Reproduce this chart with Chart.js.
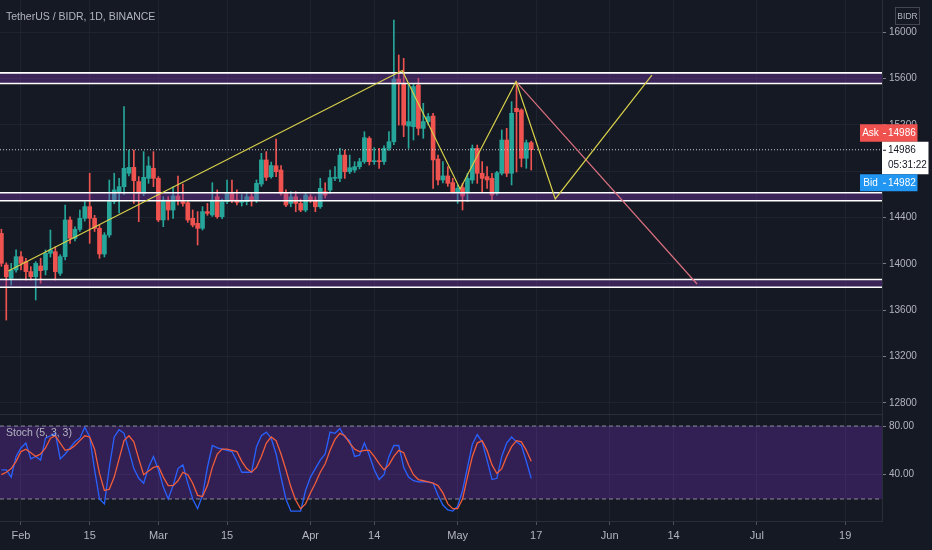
<!DOCTYPE html>
<html>
<head>
<meta charset="utf-8">
<title>TetherUS / BIDR, 1D, BINANCE</title>
<script src="https://cdn.jsdelivr.net/npm/chart.js@4.4.1/dist/chart.umd.min.js"></script>
<style>
  html, body { margin: 0; padding: 0; background: #151924; }
  #chart { display: block; }
</style>
</head>
<body>
<canvas id="chart" width="932" height="550" style="width:932px;height:550px"></canvas>
<script>
// day offsets from 1 Feb; first candle is 28 Jan
const firstDay = -4;

const opens = [
  14264, 13991, 13876, 13948, 14063, 14020, 13934, 13890, 13983, 13948,
  14092, 14106, 13919, 14063, 14380, 14221, 14299, 14394, 14495, 14394,
  14308, 14086, 14250, 14538, 14624, 14667, 14783, 14834, 14711, 14610,
  14739, 14826, 14739, 14380, 14552, 14466, 14587, 14538, 14529, 14394,
  14351, 14308, 14452, 14423, 14581, 14408, 14538, 14610, 14552, 14532,
  14538, 14581, 14552, 14690, 14898, 14753, 14848, 14811, 14609, 14523,
  14580, 14523, 14465, 14580, 14552, 14494, 14624, 14638, 14740, 14739,
  14940, 14796, 14811, 14840, 14883, 15084, 14883, 14889, 14883, 14998,
  15055, 15596, 15559, 15191, 15185, 15545, 15171, 15229, 15277, 14906,
  14725, 14760, 14702, 14624, 14659, 14624, 14725, 14998, 14783, 14754,
  14739, 14610, 14783, 15070, 14783, 15344, 15329, 14912, 15047
];
const highs = [
  14300, 14010, 14005, 14121, 14106, 14049, 13977, 14020, 14049, 14121,
  14293, 14149, 14080, 14509, 14408, 14320, 14466, 14538, 14783, 14420,
  14336, 14270, 14725, 14783, 14739, 15358, 14984, 14984, 14754, 14970,
  14926, 14970, 14754, 14581, 14581, 14667, 14759, 14690, 14550, 14466,
  14452, 14495, 14523, 14702, 14639, 14560, 14725, 14725, 14639, 14600,
  14620, 14610, 14725, 14955, 14970, 14880, 15078, 14850, 14640, 14624,
  14624, 14560, 14610, 14600, 14580, 14739, 14700, 14811, 14840, 14998,
  14983, 14940, 14883, 14912, 15142, 15099, 15004, 14998, 15020, 15142,
  16106, 15804, 15775, 15560, 15560, 15603, 15387, 15300, 15300, 14941,
  14883, 14840, 14740, 14682, 14696, 14783, 15027, 15027, 14883, 14840,
  14783, 14800, 15157, 15171, 15401, 15571, 15340, 15070, 15060
];
const lows = [
  13980, 13516, 13818, 13930, 13948, 13861, 13861, 13689, 13833, 13905,
  14060, 13861, 13900, 14034, 14178, 14200, 14280, 14370, 14178, 14280,
  14049, 14060, 14230, 14520, 14440, 14600, 14760, 14523, 14365, 14590,
  14696, 14667, 14365, 14322, 14380, 14394, 14509, 14500, 14360, 14320,
  14164, 14293, 14420, 14410, 14394, 14390, 14520, 14530, 14510, 14500,
  14510, 14500, 14530, 14670, 14720, 14740, 14753, 14595, 14494, 14494,
  14451, 14451, 14450, 14530, 14451, 14480, 14570, 14610, 14720, 14710,
  14739, 14780, 14790, 14820, 14868, 14854, 14860, 14825, 14860, 14980,
  15030, 15199, 15099, 14998, 15070, 15113, 15085, 15200, 14653, 14682,
  14700, 14670, 14610, 14523, 14466, 14538, 14696, 14696, 14624, 14653,
  14552, 14595, 14768, 14754, 14682, 14794, 14838, 14826, 14811
];
const closes = [
  14005, 13890, 13948, 14063, 14005, 13934, 13890, 14005, 13942, 14092,
  14121, 13934, 14063, 14380, 14221, 14299, 14394, 14495, 14394, 14308,
  14086, 14250, 14538, 14639, 14667, 14826, 14834, 14719, 14610, 14748,
  14846, 14739, 14380, 14552, 14466, 14587, 14552, 14523, 14380, 14336,
  14308, 14452, 14437, 14552, 14408, 14538, 14616, 14552, 14532, 14538,
  14581, 14552, 14696, 14898, 14748, 14850, 14796, 14609, 14509, 14580,
  14523, 14465, 14595, 14552, 14494, 14653, 14595, 14745, 14745, 14940,
  14796, 14831, 14840, 14883, 15090, 14883, 14889, 14883, 14998, 15055,
  15596, 15559, 15199, 15229, 15531, 15171, 15229, 15272, 14898, 14725,
  14760, 14696, 14624, 14653, 14587, 14739, 14998, 14783, 14739, 14725,
  14595, 14788, 15070, 14783, 15301, 15315, 14912, 15047, 14986
];

// Stoch (5, 3, 3)
const stochK = [
  44, 44, 38, 55, 62, 66, 53, 55, 52, 70,
  72, 74, 53, 57, 62, 67, 70, 79, 71, 44,
  20, 16, 46, 71, 77, 74, 60, 45, 37, 33,
  46, 55, 44, 30, 20, 31, 45, 48, 33, 20,
  12, 23, 46, 64, 62, 61, 60, 59, 51, 42,
  42, 42, 63, 72, 75, 70, 57, 38, 20, 10,
  10, 10, 27, 38, 45, 52, 57, 75, 74, 78,
  71, 68, 55, 56, 66, 56, 44, 36, 40, 55,
  64, 64, 46, 38, 35, 34, 34, 34, 33, 23,
  15, 11, 10, 14, 27, 46, 65, 73, 67, 52,
  36, 37, 55, 66, 71, 67, 64, 51, 37
];
const stochD = [
  40, 42, 45, 51, 59, 61, 58, 55, 57, 62,
  70, 72, 66, 60, 61, 64, 68, 72, 71, 61,
  41, 27, 28, 38, 53, 68, 72, 67, 53, 40,
  43, 46, 47, 38, 31, 31, 35, 42, 40, 33,
  23, 22, 31, 46, 57, 61, 61, 60, 59, 51,
  45, 42, 46, 55, 66, 71, 68, 57, 44, 30,
  19, 12, 16, 25, 33, 42, 49, 60, 69, 74,
  72, 66, 61, 59, 60, 60, 55, 49, 44, 48,
  55, 60, 58, 48, 40, 36, 35, 34, 33, 31,
  25, 16, 12, 12, 20, 38, 55, 66, 68, 60,
  48, 41, 45, 55, 63, 68, 67, 60, 51
];

const timeTickDays = [0, 14, 28, 42, 59, 72, 89, 105, 120, 133, 150, 168];
const timeTickLabels = ['Feb', '15', 'Mar', '15', 'Apr', '14', 'May', '17', 'Jun', '14', 'Jul', '19'];
const priceTicks = [12800, 13200, 13600, 14000, 14400, 14800, 15200, 15600, 16000];
const stochTicks = [40, 80];
const stochBand = [80, 20];

// drawings
const zoneTops = [15650, 14615, 13866];
const zoneBottoms = [15558, 14546, 13799];
const patternDays = [-2.6, 77.7, 89.5, 100.9, 108.9, 128.6];
const patternPrices = [13939, 15670, 14647, 15575, 14561, 15631];
const targetDays = [100.9, 137.8];
const targetPrices = [15575, 13827];

const lastPrice = 14986;
const askPrice = 14986;
const bidPrice = 14982;
const countdown = '05:31:22';

const xMin = -4.28, xMax = 175.5;
const FONT = "'Liberation Sans Narrow', 'Liberation Sans', Arial, sans-serif";
const TEXT = '#b2b5be';
const GRID = '#1f2330';
const UP = '#26a69a', DOWN = '#ef5350';

const days = opens.map((_, i) => firstDay + i);
const candleColors = closes.map((c, i) => c >= opens[i] ? UP : DOWN);
const flat = (y) => [{x: xMin, y}, {x: xMax, y}];

const datasets = [];

datasets.push({
  type: 'line', data: patternDays.map((d, i) => ({x: d, y: patternPrices[i]})),
  borderColor: '#d8d04a', borderWidth: 1.2, pointRadius: 0, yAxisID: 'y', order: 1
});
datasets.push({
  type: 'line', data: targetDays.map((d, i) => ({x: d, y: targetPrices[i]})),
  borderColor: '#d9707e', borderWidth: 1.2, pointRadius: 0, yAxisID: 'y', order: 1
});

zoneTops.forEach((top, i) => {
  datasets.push({
    type: 'line', data: flat(top), borderColor: '#ffffff', borderWidth: 1.6,
    pointRadius: 0, yAxisID: 'y', order: 2, fill: false
  });
  datasets.push({
    type: 'line', data: flat(zoneBottoms[i]), borderColor: '#ffffff', borderWidth: 1.6,
    pointRadius: 0, yAxisID: 'y', order: 2, fill: '-1', backgroundColor: 'rgba(120,55,170,0.38)'
  });
});

datasets.push({
  type: 'line', data: flat(lastPrice), borderColor: 'rgba(225,226,230,0.9)', borderWidth: 1,
  borderDash: [1, 2], pointRadius: 0, yAxisID: 'y', order: 3
});

// candles: bodies then wicks
datasets.push({
  type: 'bar', data: days.map((d, i) => ({x: d, y: [opens[i], closes[i]]})),
  backgroundColor: candleColors, barThickness: 4, minBarLength: 1, grouped: false,
  yAxisID: 'y', order: 5
});
datasets.push({
  type: 'bar', data: days.map((d, i) => ({x: d, y: [lows[i], highs[i]]})),
  backgroundColor: candleColors, barThickness: 1, grouped: false,
  yAxisID: 'y', order: 6
});

// stoch pane
datasets.push({
  type: 'line', data: days.map((d, i) => ({x: d, y: stochD[i]})),
  borderColor: '#f25d3a', borderWidth: 1.3, pointRadius: 0, tension: 0, yAxisID: 'y2', order: 1
});
datasets.push({
  type: 'line', data: days.map((d, i) => ({x: d, y: stochK[i]})),
  borderColor: '#2962ff', borderWidth: 1.3, pointRadius: 0, tension: 0, yAxisID: 'y2', order: 2
});
datasets.push({
  type: 'line', data: flat(stochBand[0]), borderColor: '#8a8d96', borderWidth: 1,
  borderDash: [4, 3], pointRadius: 0, yAxisID: 'y2', order: 8, fill: false
});
datasets.push({
  type: 'line', data: flat(stochBand[1]), borderColor: '#8a8d96', borderWidth: 1,
  borderDash: [4, 3], pointRadius: 0, yAxisID: 'y2', order: 8, fill: '-1',
  backgroundColor: 'rgba(120,50,200,0.3)'
});

const labelByDay = {};
timeTickDays.forEach((d, i) => { labelByDay[d] = timeTickLabels[i]; });

function box(ctx, x, y, w, h, fill, label, price) {
  ctx.fillStyle = fill;
  ctx.fillRect(x, y, w, h);
  ctx.fillStyle = '#ffffff';
  ctx.textBaseline = 'middle';
  ctx.textAlign = 'center';
  ctx.fillText(label, x + 10.5, y + h / 2 + 0.5);
  ctx.fillRect(883, y + h / 2, 3, 1);
  ctx.textAlign = 'left';
  ctx.fillText(price, 888, y + h / 2 + 0.5);
}

const overlay = {
  id: 'overlay',
  afterDraw(chart) {
    const {ctx, scales} = chart;
    const area = chart.chartArea;
    ctx.save();
    // pane separator
    ctx.fillStyle = '#2a2e39';
    ctx.fillRect(0, Math.round(scales.y.bottom), area.right, 1);

    ctx.font = '10.5px ' + FONT;
    ctx.fillStyle = TEXT;
    ctx.textBaseline = 'middle';
    ctx.textAlign = 'left';
    ctx.fillText('TetherUS / BIDR, 1D, BINANCE', 6, 17);
    ctx.fillText('Stoch (5, 3, 3)', 6, scales.y2.top + 19);

    // currency badge
    ctx.strokeStyle = '#434651';
    ctx.lineWidth = 1;
    ctx.strokeRect(895.5, 7.5, 24, 17);
    ctx.font = '8.5px ' + FONT;
    ctx.textAlign = 'center';
    ctx.fillText('BIDR', 907.5, 16.5);

    // price tags
    const py = scales.y.getPixelForValue(lastPrice);
    ctx.font = '10px ' + FONT;
    box(ctx, 860, py - 25.5, 57.5, 17.5, '#f0524f', 'Ask', String(askPrice));
    ctx.fillStyle = '#ffffff';
    ctx.fillRect(882, py - 8, 46.5, 32.5);
    ctx.fillStyle = '#131722';
    ctx.fillRect(883, py, 3, 1);
    ctx.textAlign = 'left';
    ctx.fillText(String(lastPrice), 888, py + 0.5);
    ctx.fillText(countdown, 888, py + 15);
    box(ctx, 860, py + 24.5, 57.5, 17, '#2196f3', 'Bid', String(bidPrice));
    ctx.restore();
  }
};

const noPad = s => { s.paddingTop = 0; s.paddingBottom = 0; s.paddingLeft = 0; s.paddingRight = 0; };

new Chart(document.getElementById('chart'), {
  type: 'bar',
  data: { datasets },
  plugins: [overlay],
  options: {
    responsive: false,
    animation: false,
    events: [],
    layout: { padding: 0, autoPadding: false },
    plugins: { legend: { display: false }, tooltip: { enabled: false } },
    scales: {
      x: {
        type: 'linear', min: xMin, max: xMax, offset: false,
        afterBuildTicks: s => { s.ticks = timeTickDays.map(v => ({value: v})); },
        afterFit: s => { s.height = 29; noPad(s); },
        ticks: {
          autoSkip: false, maxRotation: 0, padding: 4, color: TEXT,
          font: { family: FONT, size: 11 },
          callback: v => labelByDay[v]
        },
        grid: { color: GRID, offset: false, tickLength: 4, tickColor: '#50535e' },
        border: { color: '#2a2e39' }
      },
      y: {
        type: 'linear', position: 'right', stack: 'panes', stackWeight: 414,
        min: 12704.8, max: 16278.8,
        afterBuildTicks: s => { s.ticks = priceTicks.map(v => ({value: v})); },
        afterFit: s => { s.width = 50; noPad(s); },
        ticks: {
          padding: 3, color: TEXT, font: { family: FONT, size: 10 },
          callback: v => String(v)
        },
        grid: { color: GRID, tickLength: 4, tickColor: '#787b86' },
        border: { color: '#2a2e39' }
      },
      y2: {
        type: 'linear', position: 'right', stack: 'panes', stackWeight: 107,
        min: 1.9, max: 89.9,
        afterBuildTicks: s => { s.ticks = stochTicks.map(v => ({value: v})); },
        afterFit: s => { s.width = 50; noPad(s); },
        ticks: {
          padding: 3, color: TEXT, font: { family: FONT, size: 10 },
          callback: v => v.toFixed(2)
        },
        grid: { color: GRID, tickLength: 4, tickColor: '#787b86' },
        border: { color: '#2a2e39' }
      }
    }
  }
});
</script>
</body>
</html>
